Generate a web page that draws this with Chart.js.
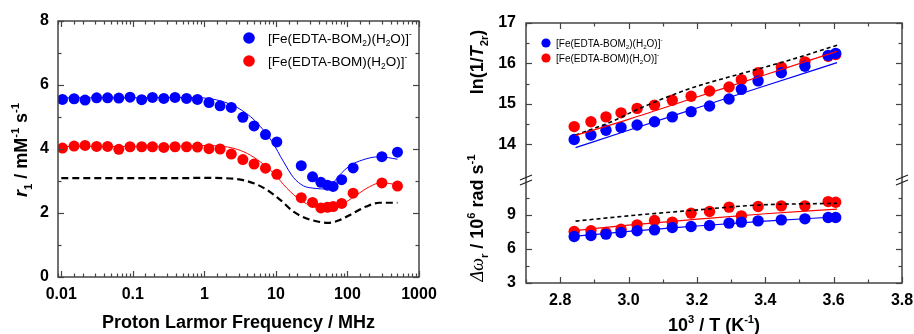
<!DOCTYPE html>
<html><head><meta charset="utf-8">
<script src="https://cdn.jsdelivr.net/npm/chart.js@4.4.0/dist/chart.umd.min.js"></script>
<style>
html,body{margin:0;padding:0;background:#fff;width:914px;height:334px;overflow:hidden}
#c1{position:absolute;left:0;top:0}
#c2{position:absolute;left:460px;top:0}
</style></head><body>
<canvas id="c1" width="460" height="334"></canvas>
<canvas id="c2" width="454" height="334"></canvas>
<script>
// ===== Left panel: NMRD profile =====
const freqMHz = [0.0104,0.0151,0.0215,0.0312,0.0444,0.0637,0.0914,0.133,0.188,0.271,0.389,0.564,0.80,1.16,1.66,2.38,3.45,4.95,7.15,10.3,22.6,32.5,42.5,52.5,63,83,120,303,500];
const r1Bom2 = [5.55,5.57,5.53,5.60,5.60,5.59,5.62,5.54,5.61,5.58,5.61,5.58,5.55,5.45,5.35,5.30,4.99,4.72,4.45,4.22,3.48,3.13,2.96,2.87,2.83,3.04,3.41,3.76,3.90];
const r1Bom  = [4.03,4.09,4.11,4.08,4.08,3.99,4.07,4.07,4.07,4.05,4.07,4.07,4.06,4.01,4.00,3.84,3.67,3.53,3.40,3.21,2.48,2.33,2.16,2.18,2.20,2.30,2.62,2.94,2.84];
const fitFreqBom2 = [0.01,0.1,0.5,0.9,2.47,4.42,6.08,8.83,12.8,17.6,24.2,35.2,51,59.8,78,107,164,279,500];
const fitR1Bom2   = [5.60,5.60,5.61,5.60,5.37,5.01,4.70,4.23,3.60,3.11,2.85,2.77,2.75,2.88,3.19,3.47,3.66,3.76,3.68];
const fitFreqBom  = [0.01,0.1,0.5,0.9,1.7,2.59,3.98,6.04,9.3,14.3,21.8,33.3,48.3,70,96.6,133,203,294,500];
const fitR1Bom    = [4.08,4.08,4.09,4.11,4.09,4.02,3.86,3.60,3.24,2.77,2.41,2.20,2.15,2.20,2.35,2.56,2.82,2.95,2.88];
const dashFreq    = [0.01,0.1,0.5,0.9,2.59,4.91,7.5,11.5,17.6,26.9,41.2,53.7,78,119,182,279,500];
const dashR1      = [3.09,3.09,3.09,3.10,3.07,2.93,2.72,2.41,2.04,1.83,1.72,1.69,1.78,1.99,2.20,2.32,2.32];
const freqTickLabels = ['0.01','0.1','1','10','100','1000'];
const r1TickLabels = ['0','2','4','6','8'];

// ===== Right panel: temperature dependence =====
const invT    = [2.841,2.890,2.934,2.978,3.025,3.076,3.128,3.183,3.237,3.294,3.330,3.379,3.447,3.516,3.584,3.606];
const lnBom2  = [14.12,14.23,14.35,14.42,14.48,14.56,14.68,14.81,14.95,15.12,15.36,15.57,15.77,15.93,16.20,16.25];
const lnBom   = [14.44,14.56,14.68,14.78,14.89,14.97,15.09,15.19,15.32,15.42,15.60,15.77,15.91,16.04,16.18,16.22];
const dwBom2  = [7.10,7.18,7.30,7.45,7.60,7.68,7.89,7.97,8.06,8.27,8.36,8.47,8.56,8.65,8.77,8.77];
const dwBom   = [7.53,7.60,7.45,7.74,8.12,8.50,8.36,9.15,9.29,9.68,8.91,9.73,9.79,9.79,10.17,10.11];
const invTFit   = [2.845,3.0,3.2,3.4,3.61];
const lnFitBom2 = [13.92,14.35,14.90,15.45,16.02];
const lnFitBom  = [14.22,14.62,15.17,15.72,16.30];
const dwFitBom2 = [7.12,7.55,8.02,8.45,8.82];
const dwFitBom  = [7.62,8.10,8.62,9.10,9.50];
const invTDashLn = [2.845,2.95,3.03,3.18,3.33,3.47,3.61];
const lnDash     = [14.23,14.56,14.88,15.38,15.75,16.08,16.45];
const invTDashDw = [2.845,3.03,3.18,3.37,3.61];
const dwDash     = [8.45,9.0,9.38,9.85,10.02];
const invTTickLabels = ['2.8','3.0','3.2','3.4','3.6','3.8'];
const lnTickLabels = ['14','15','16','17'];
const dwTickLabels = ['3','6','9'];

const seriesLabels = [
  [['[Fe(EDTA-BOM',''],['2','s'],[')(H',''],['2','s'],['O)]',''],['-','p']],
  [['[Fe(EDTA-BOM)(H',''],['2','s'],['O)]',''],['-','p']]
];
const BLUE = '#0000ff', RED = '#ff0000';
const SANS = '"Liberation Sans", Arial, sans-serif';

function xy(xs, ys){ return xs.map((x,i)=>({x:x, y:ys[i]})); }
function lineDs(xs, ys, color, w, dash, yId){
  const d = {type:'line', data:xy(xs,ys), borderColor:color, borderWidth:w, borderDash:dash,
    pointRadius:0, showLine:true, fill:false, cubicInterpolationMode:'monotone'};
  if (yId) d.yAxisID = yId;
  return d;
}
function ptDs(xs, ys, color, r, yId){
  const d = {type:'scatter', data:xy(xs,ys), backgroundColor:color, borderWidth:0, pointRadius:r, pointHoverRadius:r};
  if (yId) d.yAxisID = yId;
  return d;
}
function rich(ctx, segs, x, y, size, opt){
  opt = opt || {};
  const fam = opt.family || SANS, wt = opt.weight || 'normal';
  const fontFor = m => {
    const small = m.includes('s') || m.includes('p');
    const sz = small ? size*0.62 : size;
    const f = m.includes('f') ? '"Liberation Serif", "Times New Roman", serif' : fam;
    const w = m.includes('f') ? 'normal' : wt;
    return (m.includes('i') ? 'italic ' : '') + w + ' ' + sz + 'px ' + f;
  };
  let total = 0; const ws = [];
  segs.forEach(s => { ctx.font = fontFor(s[1]); const w = ctx.measureText(s[0]).width; ws.push(w); total += w; });
  let cx = opt.align === 'center' ? x - total/2 : x;
  ctx.textAlign = 'left'; ctx.textBaseline = 'alphabetic'; ctx.fillStyle = opt.color || '#000';
  segs.forEach((s,i) => {
    ctx.font = fontFor(s[1]);
    const dy = s[1].includes('s') ? size*0.25 : s[1].includes('p') ? -size*0.45 : 0;
    ctx.fillText(s[0], cx, y + dy); cx += ws[i];
  });
}
function hline(ctx,x1,y1,x2,y2){ ctx.beginPath(); ctx.moveTo(x1,y1); ctx.lineTo(x2,y2); ctx.stroke(); }
function drawTicks(ctx, chart, scale, horizontal, kindFn){
  const a = chart.chartArea;
  ctx.save(); ctx.strokeStyle = '#444'; ctx.lineWidth = 1.2;
  scale.ticks.forEach(t => {
    const k = kindFn(t.value); if (!k) return;
    const len = k === 2 ? 6 : 3.5;
    const p = Math.round(scale.getPixelForValue(t.value)) + 0.5;
    if (horizontal){ hline(ctx,p,a.bottom,p,a.bottom-len); hline(ctx,p,a.top,p,a.top+len); }
    else { hline(ctx,a.left,p,a.left+len,p); hline(ctx,a.right,p,a.right-len,p); }
  });
  ctx.restore();
}
function frame(ctx, a){
  ctx.save(); ctx.strokeStyle = '#444'; ctx.lineWidth = 1.5;
  ctx.strokeRect(a.left, a.top, a.right-a.left, a.bottom-a.top); ctx.restore();
}
const isPow10 = v => { const e = Math.log10(v); return Math.abs(e - Math.round(e)) < 1e-6; };
const near = (v, s) => Math.abs(v/s - Math.round(v/s)) < 1e-6;

// ---------- Left chart ----------
const leftDeco = { id:'leftDeco', afterDraw(chart){
  const ctx = chart.ctx, a = chart.chartArea;
  frame(ctx, a);
  drawTicks(ctx, chart, chart.scales.x, true, v => isPow10(v) ? 2 : 1);
  drawTicks(ctx, chart, chart.scales.y, false, v => near(v,2) ? 2 : (near(v,1) ? 1 : 0));
  rich(ctx, [['Proton Larmor Frequency / MHz','']], (a.left+a.right)/2, 328, 18, {weight:'bold', align:'center'});
  ctx.save(); ctx.translate(27, (a.top+a.bottom)/2 + 1); ctx.rotate(-Math.PI/2);
  rich(ctx, [['r','i'],['1','s'],[' / mM',''],['-1','p'],[' s',''],['-1','p']], 0, 0, 18, {weight:'bold', align:'center'});
  ctx.restore();
  const cols = [BLUE, RED], ys = [38, 61];
  for (let i=0;i<2;i++){
    ctx.fillStyle = cols[i]; ctx.beginPath(); ctx.arc(249, ys[i], 5.8, 0, Math.PI*2); ctx.fill();
    rich(ctx, seriesLabels[i], 268, ys[i]+5, 13.5, {});
  }
}};

new Chart(document.getElementById('c1'), {
  type:'scatter',
  data:{ datasets:[
    lineDs(fitFreqBom2, fitR1Bom2, BLUE, 1, []),
    lineDs(fitFreqBom, fitR1Bom, RED, 1, []),
    lineDs(dashFreq, dashR1, '#000', 2.2, [7,4]),
    ptDs(freqMHz, r1Bom2, BLUE, 5.5),
    ptDs(freqMHz, r1Bom, RED, 5.5)
  ]},
  options:{
    responsive:false, animation:false, devicePixelRatio:1,
    layout:{padding:{left:0,right:41,top:21,bottom:0}},
    plugins:{legend:{display:false}, tooltip:{enabled:false}},
    scales:{
      x:{type:'logarithmic', min:0.009, max:1000,
        grid:{display:false, drawTicks:false}, border:{display:false},
        ticks:{autoSkip:false, maxRotation:0, minRotation:0, padding:8, color:'#000',
          font:{family:SANS, size:16, weight:'bold'},
          callback:(v)=> isPow10(v) ? freqTickLabels[Math.round(Math.log10(v))+2] : ''},
        afterFit:s=>{ s.height = 57; s.paddingLeft = 0; s.paddingRight = 0; }},
      y:{type:'linear', min:0, max:8,
        grid:{display:false, drawTicks:false}, border:{display:false},
        ticks:{stepSize:1, padding:9, color:'#000', font:{family:SANS, size:16, weight:'bold'},
          callback:(v)=> near(v,2) ? r1TickLabels[Math.round(v/2)] : ''},
        afterFit:s=>{ s.width = 58; s.paddingTop = 0; s.paddingBottom = 0; }}
    }
  },
  plugins:[leftDeco]
});

// ---------- Right chart ----------
const rightDeco = { id:'rightDeco', afterDraw(chart){
  const ctx = chart.ctx, a = chart.chartArea;
  const yU = chart.scales.yU, yL = chart.scales.yL, x = chart.scales.x;
  frame(ctx, a);
  drawTicks(ctx, chart, x, true, v => near(v,0.2) && !near(v-0.1,0.2) ? 2 : (near(v,0.1) ? 1 : 0));
  drawTicks(ctx, chart, yU, false, v => (v >= 13.4 && v < 17.01) ? (near(v,1) ? 2 : (near(v,0.5) ? 1 : 0)) : 0);
  drawTicks(ctx, chart, yL, false, v => (v <= 10.6) ? (near(v,3) ? 2 : (near(v,1.5) ? 1 : 0)) : 0);
  const by = yU.bottom;
  ctx.save(); ctx.strokeStyle = '#222'; ctx.lineWidth = 1.3;
  [a.left, a.right].forEach(ax => {
    [-2.5, 2.5].forEach(k => hline(ctx, ax-6, by+k+2.5, ax+6, by+k-2.5));
  });
  ctx.restore();
  rich(ctx, [['10',''],['3','p'],[' / T (K',''],['-1','p'],[')','']], (a.left+a.right)/2, 331, 18, {weight:'bold', align:'center'});
  ctx.save(); ctx.translate(23, 62); ctx.rotate(-Math.PI/2);
  rich(ctx, [['ln(1/',''],['T','i'],['2r','s'],[')','']], 0, 0, 18, {weight:'bold', align:'center'});
  ctx.restore();
  ctx.save(); ctx.translate(23, 218); ctx.rotate(-Math.PI/2);
  rich(ctx, [['\u0394\u03c9','if'],['r','s'],[' / 10',''],['6','p'],[' rad s',''],['-1','p']], 0, 0, 18, {weight:'bold', align:'center'});
  ctx.restore();
  const cols = [BLUE, RED], ys = [43, 58];
  for (let i=0;i<2;i++){
    ctx.fillStyle = cols[i]; ctx.beginPath(); ctx.arc(86, ys[i], 4.6, 0, Math.PI*2); ctx.fill();
    rich(ctx, seriesLabels[i], 96, ys[i]+3.5, 10, {});
  }
}};

const tickFont = {family:SANS, size:16, weight:'bold'};
new Chart(document.getElementById('c2'), {
  type:'scatter',
  data:{ datasets:[
    lineDs(invTFit, lnFitBom2, BLUE, 1.2, [], 'yU'),
    lineDs(invTFit, lnFitBom, RED, 1.2, [], 'yU'),
    lineDs(invTDashLn, lnDash, '#000', 1.6, [4,3], 'yU'),
    lineDs(invTFit, dwFitBom2, BLUE, 1.2, [], 'yL'),
    lineDs(invTFit, dwFitBom, RED, 1.2, [], 'yL'),
    lineDs(invTDashDw, dwDash, '#000', 1.6, [4,3], 'yL'),
    ptDs(invT, lnBom2, BLUE, 5.7, 'yU'),
    ptDs(invT, lnBom, RED, 5.7, 'yU'),
    ptDs(invT, dwBom2, BLUE, 5.7, 'yL'),
    ptDs(invT, dwBom, RED, 5.7, 'yL')
  ]},
  options:{
    responsive:false, animation:false, devicePixelRatio:1,
    layout:{padding:{left:0,right:12,top:23,bottom:0}},
    plugins:{legend:{display:false}, tooltip:{enabled:false}},
    scales:{
      x:{type:'linear', min:2.7, max:3.8,
        grid:{display:false, drawTicks:false}, border:{display:false},
        ticks:{stepSize:0.1, autoSkip:false, maxRotation:0, padding:8, color:'#000', font:tickFont,
          callback:(v)=>{ const k = Math.round((v-2.8)/0.2*1000)/1000; return (Number.isInteger(k) && k>=0) ? invTTickLabels[k] : ''; }},
        afterFit:s=>{ s.height = 51; s.paddingLeft = 0; s.paddingRight = 0; }},
      yU:{type:'linear', position:'left', stack:'v', stackWeight:157, weight:2, min:13.12, max:17,
        grid:{display:false, drawTicks:false}, border:{display:false},
        ticks:{stepSize:0.5, autoSkip:false, padding:10, color:'#000', font:tickFont,
          callback:(v)=> (near(v,1) && v>=14) ? lnTickLabels[Math.round(v)-14] : ''},
        afterFit:s=>{ s.width = 66; }},
      yL:{type:'linear', position:'left', stack:'v', stackWeight:103, weight:1, min:3, max:12.07,
        grid:{display:false, drawTicks:false}, border:{display:false},
        ticks:{stepSize:1.5, autoSkip:false, padding:10, color:'#000', font:tickFont,
          callback:(v)=> (near(v,3) && v<=9.01) ? dwTickLabels[Math.round(v/3)-1] : ''},
        afterFit:s=>{ s.width = 66; }}
    }
  },
  plugins:[rightDeco]
});
</script>
</body></html>
